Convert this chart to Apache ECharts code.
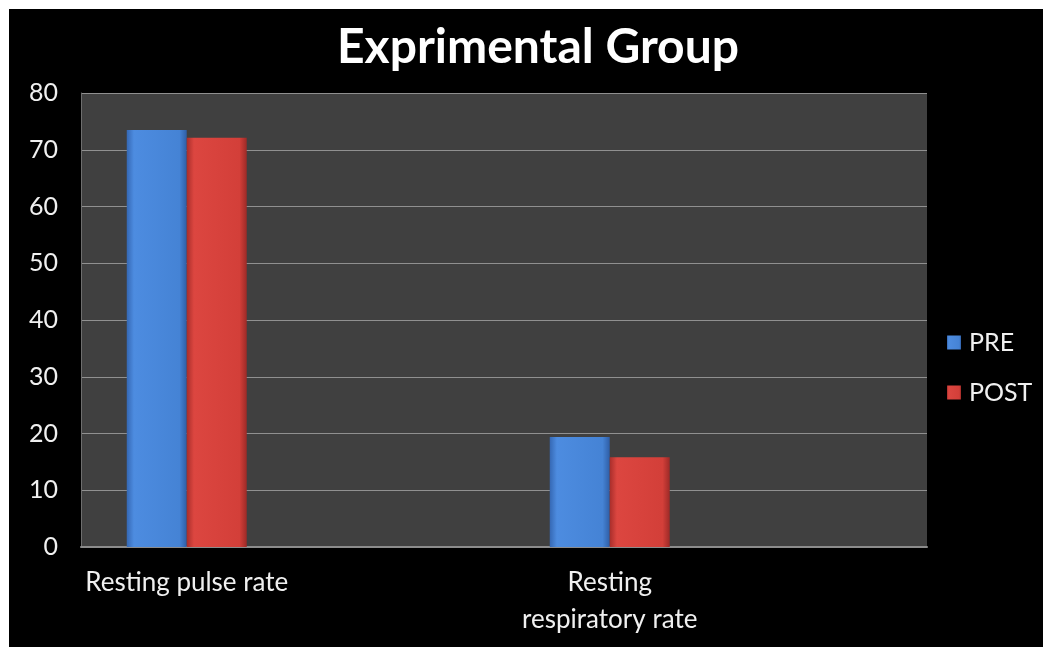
<!DOCTYPE html>
<html>
<head>
<meta charset="utf-8">
<script src="https://cdn.jsdelivr.net/npm/echarts@6/dist/echarts.min.js"></script>
<style>
  html, body { margin: 0; padding: 0; background: #000; width: 1043px; height: 647px; overflow: hidden; }
  #chart { position: absolute; left: 0; top: 0; width: 1043px; height: 647px; }
  .edge { position: absolute; background: #fff; z-index: 5; }
  #edgeTop { left: 0; top: 0; width: 1043px; height: 9px; }
  #edgeLeft { left: 0; top: 0; width: 9px; height: 647px; }
</style>
</head>
<body>
<div id="chart"></div>
<div class="edge" id="edgeTop"></div>
<div class="edge" id="edgeLeft"></div>
<script>
// Measures and the two groups
const categories = ['Resting pulse rate', 'Resting\nrespiratory rate'];
const preValues = [73.5, 19.4];
const postValues = [72.1, 15.8];
const yTicks = [0, 10, 20, 30, 40, 50, 60, 70, 80];

// Each measure sits in its own slot followed by an empty spacer slot
const slots = [];
const preSlots = [];
const postSlots = [];
categories.forEach((c, i) => {
  slots.push(c, '');
  preSlots.push(preValues[i], null);
  postSlots.push(postValues[i], null);
});

function bevel(edge, light, mid, dark) {
  return {
    type: 'linear', x: 0, y: 0, x2: 1, y2: 0,
    colorStops: [
      { offset: 0, color: edge },
      { offset: 0.12, color: light },
      { offset: 0.88, color: mid },
      { offset: 1, color: dark }
    ]
  };
}

const chart = echarts.init(document.getElementById('chart'), null, { renderer: 'canvas' });
const font = 'Lato, "Open Sans", sans-serif';

chart.setOption({
  backgroundColor: '#000000',
  animation: false,
  title: {
    text: 'Exprimental Group',
    left: 332,
    top: 19,
    textStyle: { color: '#ffffff', fontFamily: font, fontWeight: 'bold', fontSize: 48 }
  },
  legend: {
    orient: 'vertical',
    left: 942,
    top: 325,
    itemWidth: 14,
    itemHeight: 14,
    itemGap: 25,
    icon: 'rect',
    textStyle: { color: '#f0f0f0', fontFamily: font, fontSize: 25, padding: [0, 0, 0, 3] },
    data: ['PRE', 'POST']
  },
  grid: {
    left: 81,
    top: 93,
    width: 846,
    height: 454,
    show: true,
    backgroundColor: '#404040',
    borderWidth: 0
  },
  xAxis: {
    type: 'category',
    data: slots,
    axisLine: { show: true, lineStyle: { color: '#8c8c8c', width: 2 } },
    axisTick: { show: false },
    axisLabel: {
      color: '#f0f0f0', fontFamily: font, fontSize: 26, lineHeight: 37,
      margin: 17, interval: 0
    }
  },
  yAxis: {
    type: 'value',
    min: yTicks[0],
    max: yTicks[yTicks.length - 1],
    interval: 10,
    axisLine: { show: true, lineStyle: { color: '#6e6e6e', width: 1 } },
    axisTick: { show: false },
    splitLine: { show: true, lineStyle: { color: '#909090', width: 1 } },
    axisLabel: { color: '#f0f0f0', fontFamily: font, fontSize: 25, margin: 23 }
  },
  series: [
    {
      name: 'PRE',
      type: 'bar',
      data: preSlots,
      barWidth: 60,
      barGap: '0%',
      itemStyle: {
        color: bevel('#3568b4', '#4d8ce0', '#4583d5', '#2f5ea6')
      }
    },
    {
      name: 'POST',
      type: 'bar',
      data: postSlots,
      barWidth: 60,
      barGap: '0%',
      itemStyle: {
        color: bevel('#a92e2b', '#dc4640', '#d33f39', '#9c2a27')
      }
    }
  ]
});
</script>
</body>
</html>
